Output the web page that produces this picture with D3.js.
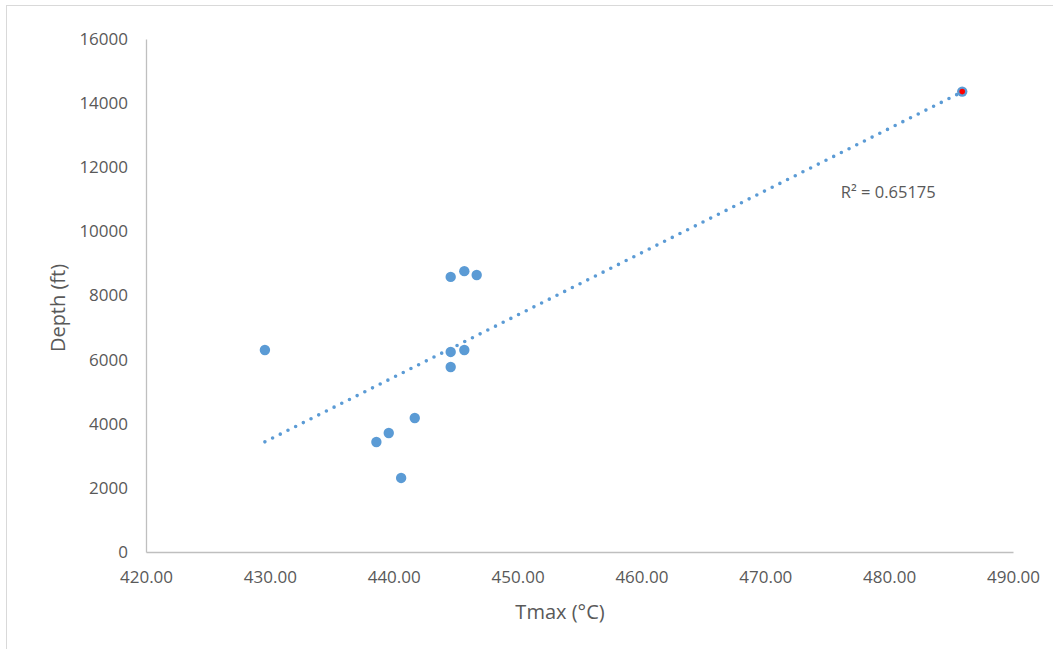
<!DOCTYPE html>
<html>
<head>
<meta charset="utf-8">
<script src="https://cdn.jsdelivr.net/npm/d3@7"></script>
<style>
  body { margin: 0; background: #fff; }
  svg { display: block; font-family: "Open Sans", sans-serif; }
</style>
</head>
<body>
<svg width="1053" height="649"></svg>
<script>
// Tmax (°C) vs depth (ft)
const tmax  = [429.6, 438.6, 439.6, 440.6, 441.7, 444.6, 444.6, 444.6, 445.7, 445.7, 446.7, 485.9];
const depth = [6300, 3430, 3710, 2310, 4180, 8580, 6240, 5770, 8760, 6300, 8640, 14360];
const xTicks = [420, 430, 440, 450, 460, 470, 480, 490];
const yTicks = [0, 2000, 4000, 6000, 8000, 10000, 12000, 14000, 16000];
const r2Label = "R\u00B2 = 0.65175";
const highlightIndex = 11; // point marked with red centre

let svg = d3.select("svg");
let width = +svg.attr("width");
let height = +svg.attr("height");
let margin = {left: 146, right: width - 1013, top: 39, bottom: height - 552};

// light chart frame
svg.append("rect")
    .attr("x", 6.5).attr("y", 5.5)
    .attr("width", width).attr("height", height)
    .attr("fill", "none")
    .attr("stroke", "#d9d9d9");

let x = d3.scaleLinear().domain([420, 490]).range([margin.left, width - margin.right]);
let y = d3.scaleLinear().domain([0, 16000]).range([height - margin.bottom, margin.top]);

let xAxis = svg.append("g")
    .attr("transform", `translate(0,${y(0)})`)
    .call(d3.axisBottom(x).tickValues(xTicks).tickFormat(d3.format(".2f")).tickSize(0).tickPadding(19));
let yAxis = svg.append("g")
    .attr("transform", `translate(${x(420)},0)`)
    .call(d3.axisLeft(y).tickValues(yTicks).tickFormat(d => d).tickSize(0).tickPadding(18));

[xAxis, yAxis].forEach(a => {
    a.select(".domain").attr("stroke", "#bfbfbf").attr("stroke-width", 1.3);
    a.selectAll("text")
        .attr("fill", "#595959")
        .style("font-family", "Open Sans, sans-serif")
        .style("font-size", "17px");
});
xAxis.selectAll("text").attr("dy", "0.71em");

// axis titles
svg.append("text")
    .attr("x", 560).attr("y", 619)
    .attr("text-anchor", "middle")
    .attr("fill", "#595959")
    .style("font-size", "20px")
    .text("Tmax (\u00B0C)");
svg.append("text")
    .attr("transform", `translate(65,308) rotate(-90)`)
    .attr("text-anchor", "middle")
    .attr("fill", "#595959")
    .style("font-size", "20px")
    .text("Depth (ft)");

// linear trendline (least squares)
let mx = d3.mean(tmax), my = d3.mean(depth);
let sxy = d3.sum(tmax, (t, i) => (t - mx) * (depth[i] - my));
let sxx = d3.sum(tmax, t => (t - mx) * (t - mx));
let slope = sxy / sxx, intercept = my - slope * mx;
let ext = d3.extent(tmax);
svg.append("line")
    .attr("x1", x(ext[0])).attr("y1", y(slope * ext[0] + intercept))
    .attr("x2", x(ext[1])).attr("y2", y(slope * ext[1] + intercept))
    .attr("stroke", "#5b9bd5")
    .attr("stroke-width", 3.6)
    .attr("stroke-linecap", "round")
    .attr("stroke-dasharray", "0 8.6");

// points
svg.append("g").selectAll("circle")
    .data(tmax.map((t, i) => ({t: t, d: depth[i]})))
    .join("circle")
    .attr("cx", d => x(d.t))
    .attr("cy", d => y(d.d))
    .attr("r", 5.2)
    .attr("fill", "#5b9bd5");

svg.append("circle")
    .attr("cx", x(tmax[highlightIndex]))
    .attr("cy", y(depth[highlightIndex]))
    .attr("r", 2.8)
    .attr("fill", "#ff0000");

svg.append("text")
    .attr("x", x(476.1)).attr("y", y(11050))
    .attr("fill", "#595959")
    .style("font-size", "16.5px")
    .text(r2Label);
</script>
</body>
</html>
